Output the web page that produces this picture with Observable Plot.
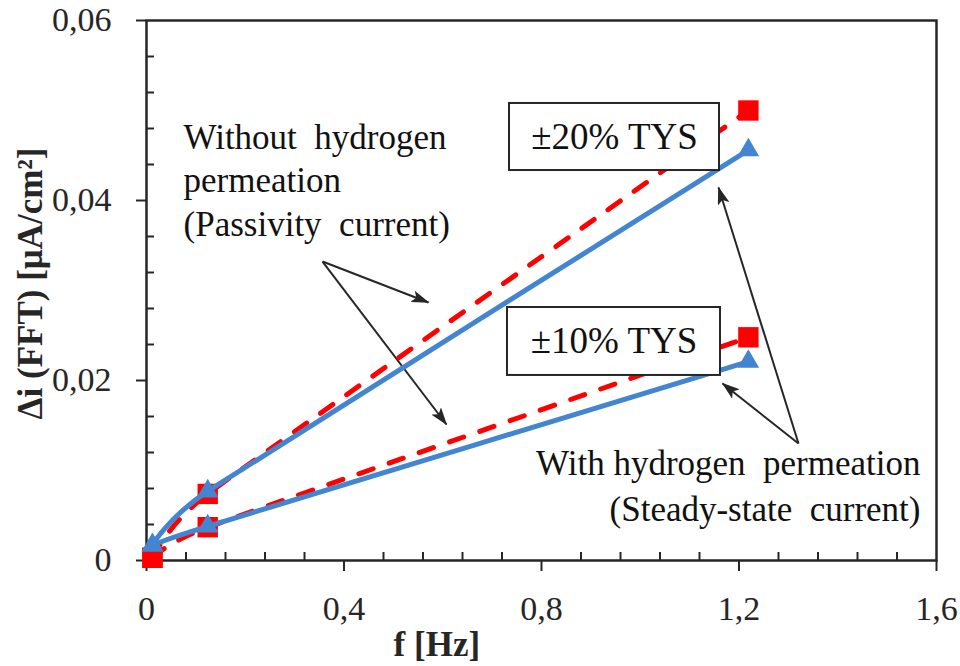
<!DOCTYPE html>
<html>
<head>
<meta charset="utf-8">
<script src="https://cdn.jsdelivr.net/npm/d3@7"></script>
<script src="https://cdn.jsdelivr.net/npm/@observablehq/plot@0.6"></script>
<style>
  html, body { margin: 0; padding: 0; background: #fff; }
  #chart { width: 960px; height: 666px; }
  #chart svg text { font-family: "Liberation Serif", "Times New Roman", serif; }
</style>
</head>
<body>
<div id="chart"></div>
<script>
// ---- data ----
const freq   = [0.012, 0.124, 1.219];          // f [Hz]
const red20  = [0.0003, 0.0074, 0.0500];       // ±20% TYS, without H permeation
const blue20 = [0.0017, 0.0077, 0.0456];       // ±20% TYS, with H permeation
const red10  = [0.0003, 0.0037, 0.0248];       // ±10% TYS, without H permeation
const blue10 = [0.0017, 0.0038, 0.0221];       // ±10% TYS, with H permeation

const xTicks = [0, 0.4, 0.8, 1.2, 1.6];
const yTicks = [0, 0.02, 0.04, 0.06];
const xMinor = d3.range(0, 1.6001, 0.08).filter(v => !xTicks.some(t => Math.abs(t - v) < 1e-9));
const yMinor = d3.range(0, 0.06001, 0.004).filter(v => !yTicks.some(t => Math.abs(t - v) < 1e-9));

const boxLabels = ["±20% TYS", "±10% TYS"];
const noteWithout = "Without  hydrogen\npermeation\n(Passivity  current)";
const noteWith = "With hydrogen  permeation\n(Steady-state  current)";
const xTitle = "f [Hz]";
const yTitle = "Δi (FFT) [μA/cm²]";

const fmt = d => d === 0 ? "0" : String(+d.toFixed(3)).replace(".", ",");
const ink = "#262626";
const RED = "#ff0000";
const BLUE = "#4485d1";
const serif = "'Liberation Serif', 'Times New Roman', serif";
const smooth = Plot.curve ? undefined : undefined; // placeholder (not used)

// boxes (in data coordinates)
const boxes = [
  {x1: 0.7352, x2: 1.1605, y1: 0.04333, y2: 0.05078, cx: 0.9478, cy: 0.04706, t: boxLabels[0]},
  {x1: 0.7311, x2: 1.1625, y1: 0.02056, y2: 0.02811, cx: 0.9468, cy: 0.02433, t: boxLabels[1]}
];
const arrows = [
  {x1: 0.3565, y1: 0.03322, x2: 0.5711, y2: 0.02867},
  {x1: 0.3565, y1: 0.03322, x2: 0.6076, y2: 0.01511},
  {x1: 1.3205, y1: 0.0130, x2: 1.1585, y2: 0.04144},
  {x1: 1.3205, y1: 0.0130, x2: 1.1666, y2: 0.01967}
];

const lineCurve = {curve: "cardinal", tension: 0.6};

const chart = Plot.plot({
  width: 960,
  height: 666,
  marginLeft: 146,
  marginRight: 24,
  marginTop: 20,
  marginBottom: 106,
  style: {fontFamily: serif, color: ink, background: "#fff"},
  x: {domain: [0, 1.6], label: null},
  y: {domain: [0, 0.06], label: null},
  marks: [
    Plot.frame({stroke: ink, strokeWidth: 2.5}),
    // major ticks (outward) with labels
    Plot.axisX(xTicks, {tickSize: 11, tickPadding: 24, tickFormat: fmt, fontSize: 34, fontFamily: serif, stroke: ink, strokeWidth: 2, label: null}),
    Plot.axisY(yTicks, {tickSize: 10, tickPadding: 25, tickFormat: fmt, fontSize: 34, fontFamily: serif, stroke: ink, strokeWidth: 2, label: null}),
    // minor ticks (inward)
    Plot.axisX(xMinor, {tickSize: -8, tickFormat: () => "", stroke: ink, strokeWidth: 2, label: null}),
    Plot.axisY(yMinor, {tickSize: -8, tickFormat: () => "", stroke: ink, strokeWidth: 2, label: null}),
    // annotation arrows
    Plot.link(arrows, {x1: "x1", y1: "y1", x2: "x2", y2: "y2", stroke: ink, strokeWidth: 2, className: "anno-arrow"}),
    // red dashed series
    Plot.line(freq, {x: freq, y: red20, stroke: RED, strokeWidth: 5, strokeDasharray: "15,17", strokeLinecap: "round", ...lineCurve}),
    Plot.line(freq, {x: freq, y: red10, stroke: RED, strokeWidth: 5, strokeDasharray: "15,17", strokeLinecap: "round", ...lineCurve}),
    Plot.dot(freq, {x: freq, y: red20, symbol: "square", r: 11.5, fill: RED, stroke: null}),
    Plot.dot(freq, {x: freq, y: red10, symbol: "square", r: 11.5, fill: RED, stroke: null}),
    // blue solid series
    Plot.line(freq, {x: freq, y: blue20, stroke: BLUE, strokeWidth: 5, ...lineCurve}),
    Plot.line(freq, {x: freq, y: blue10, stroke: BLUE, strokeWidth: 5, ...lineCurve}),
    Plot.dot(freq, {x: freq, y: blue20, symbol: "triangle", r: 8, fill: BLUE, stroke: null}),
    Plot.dot(freq, {x: freq, y: blue10, symbol: "triangle", r: 8, fill: BLUE, stroke: null}),
    // boxes
    Plot.rect(boxes, {x1: "x1", x2: "x2", y1: "y1", y2: "y2", fill: "#fff", stroke: ink, strokeWidth: 2}),
    Plot.text(boxes, {x: "cx", y: "cy", text: "t", fontSize: 37, fontFamily: serif, fill: "#111", lineAnchor: "middle"}),
    // notes
    Plot.text([noteWithout], {x: () => 0.075, y: () => 0.03611, text: d => d, textAnchor: "start", lineAnchor: "bottom", lineHeight: 1.23, fontSize: 35, fontFamily: serif, fill: "#111"}),
    Plot.text([noteWith], {x: () => 1.5676, y: () => 0.004444, text: d => d, textAnchor: "end", lineAnchor: "bottom", lineHeight: 1.29, fontSize: 35, fontFamily: serif, fill: "#111"}),
    // axis titles
    Plot.text([xTitle], {x: () => 0.588, frameAnchor: "bottom", dy: 95, text: d => d, lineAnchor: "bottom", fontSize: 35, fontWeight: "bold", fontFamily: serif, fill: ink}),
    Plot.text([yTitle], {x: () => -0.235, y: () => 0.03078, text: d => d, rotate: -90, lineAnchor: "middle", fontSize: 35, fontWeight: "bold", fontFamily: serif, fill: ink})
  ]
});

// filled arrow heads for the annotation links
const ns = "http://www.w3.org/2000/svg";
const defs = document.createElementNS(ns, "defs");
const marker = document.createElementNS(ns, "marker");
marker.setAttribute("id", "filled-head");
marker.setAttribute("markerUnits", "userSpaceOnUse");
marker.setAttribute("markerWidth", "18");
marker.setAttribute("markerHeight", "12");
marker.setAttribute("refX", "17");
marker.setAttribute("refY", "6");
marker.setAttribute("orient", "auto");
const head = document.createElementNS(ns, "path");
head.setAttribute("d", "M0,0 L18,6 L0,12 L4,6 Z");
head.setAttribute("fill", ink);
marker.appendChild(head);
defs.appendChild(marker);
chart.insertBefore(defs, chart.firstChild);
chart.querySelectorAll(".anno-arrow path").forEach(p => p.setAttribute("marker-end", "url(#filled-head)"));

document.getElementById("chart").appendChild(chart);
</script>
</body>
</html>
